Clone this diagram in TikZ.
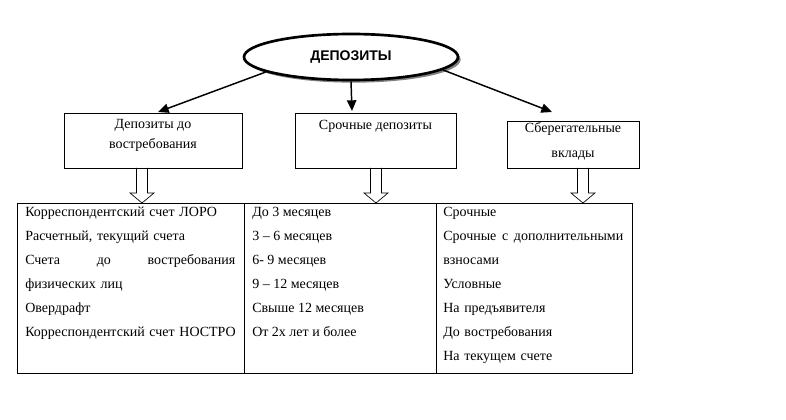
\documentclass[tikz,border=0pt]{standalone}
\usepackage{fontspec}
\setmainfont{Liberation Serif}
\newfontfamily\headfont{Liberation Sans}
\usetikzlibrary{arrows.meta,shapes.geometric,shadows,calc,positioning}

\newcommand{\hollowdown}[2]{%
  \draw[hollow] ($(#1)+(-5.5,0)$) -- ($(#2)+(-5.5,-10)$) -- ($(#2)+(-12,-10)$) -- (#2)
    -- ($(#2)+(12,-10)$) -- ($(#2)+(5.5,-10)$) -- ($(#1)+(5.5,0)$);}

\begin{document}
\begin{tikzpicture}[x=0.75pt,y=-0.75pt]
\tikzstyle{box}=[draw,line width=0.6pt,inner sep=0pt,outer sep=0pt]
\tikzstyle{boxtext}=[inner sep=0pt,align=center,anchor=north,font=\fontsize{10.5}{15}\selectfont]
\tikzstyle{cell}=[inner sep=0pt,align=left,anchor=north west,font=\fontsize{10.5}{18}\selectfont]
\tikzstyle{link}=[line width=1.1pt,-{Triangle[length=8pt,width=7pt]}]
\tikzstyle{hollow}=[line width=0.5pt]

\useasboundingbox (0,0) rectangle (786,420);

\node[draw,ellipse,line width=2pt,fill=white,inner sep=0pt,minimum width=160.5pt,minimum height=34.5pt,
  drop shadow={shadow xshift=2pt,shadow yshift=-2pt,fill=black!50,opacity=1}] (e) at (351,57)
  {\headfont\bfseries\fontsize{10.5}{12}\selectfont ДЕПОЗИТЫ};

\node[box,minimum width=133.5pt,minimum height=41.25pt] (b1) at (153,140.5) {};
\node[box,minimum width=120.75pt,minimum height=41.25pt] (b2) at (375.5,140.5) {};
\node[box,minimum width=99pt,minimum height=35.25pt] (b3) at (573,144.5) {};

\node[boxtext] (l1) at ($(b1.north)+(0,6)$) {Депозиты до\\востребования};
\node[boxtext] (l2) at ($(b2.north)+(0,7)$) {Срочные депозиты};
\node[boxtext,font=\fontsize{10.5}{19}\selectfont] (l3) at ($(b3.north)+(0,1)$) {Сберегательные\\вклады};

\coordinate (t1) at ($(b1.north)+(5,-1)$);
\coordinate (t2) at ($(b2.north)+(-23.5,-2)$);
\coordinate (t3) at ($(b3.north)+(-21,-9)$);
\draw[link] (e.190) -- (t1);
\draw[link] (e.south) -- (t2);
\draw[link] (e.-8) -- (t3);

\node[box,anchor=north west,minimum width=170.25pt,minimum height=127.5pt] (c1) at (17,203) {};
\node[box,anchor=north west,minimum width=144pt,minimum height=127.5pt] (c2) at (c1.north east) {};
\node[box,anchor=north west,minimum width=147pt,minimum height=127.5pt] (c3) at (c2.north east) {};

\node[cell,text width=165pt] (k1) at (25,199) {\strut Корреспондентский счет ЛОРО\\
  Расчетный, текущий счета\\
  \makebox[157.5pt]{Счета\hfill до\hfill востребования}\\
  физических лиц\\
  Овердрафт\\
  Корреспондентский счет НОСТРО};
\node[cell] (k2) at (252,199) {\strut До 3 месяцев\\
  3 -- 6 месяцев\\
  6- 9 месяцев\\
  9 -- 12 месяцев\\
  Свыше 12 месяцев\\
  От 2х лет и более};
\node[cell,text width=140pt] (k3) at (443,199) {\strut Срочные\\
  \makebox[135pt]{Срочные\hfill с\hfill дополнительными}\\
  взносами\\
  Условные\\
  На предъявителя\\
  До востребования\\
  На текущем счете};

\coordinate (a1) at ($(b1.south)+(-11,0)$);
\coordinate (a2) at ($(b2.south)+(0.5,0)$);
\coordinate (a3) at ($(b3.south)+(10,0)$);
\foreach \i/\c in {1/c1,2/c2,3/c3}
{
  \coordinate (h\i) at (a\i |- \c.north);
  \hollowdown{a\i}{h\i}
}

\end{tikzpicture}
\end{document}
